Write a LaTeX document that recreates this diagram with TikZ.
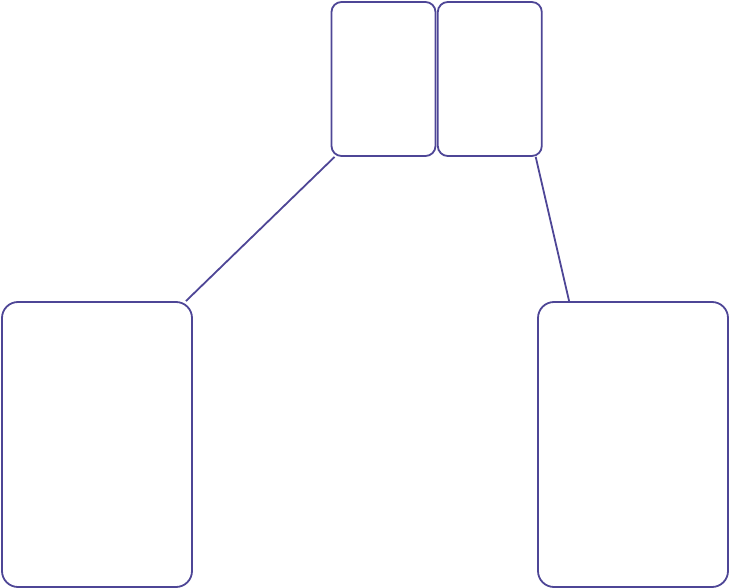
\documentclass[tikz,border=0pt]{standalone}
\usetikzlibrary{positioning}
\definecolor{boxline}{RGB}{78,70,150}
\tikzset{
  card/.style = {draw = boxline, line width = 1.8pt, rounded corners = 10pt, minimum width = 104pt, minimum height = 154pt, inner sep = 0pt},
  bigcard/.style = {draw = boxline, line width = 1.8pt, rounded corners = 16pt, minimum width = 190pt, minimum height = 285pt, inner sep = 0pt},
  link/.style = {draw = boxline, line width = 1.8pt}
}
\begin{document}
\begin{tikzpicture}[x = 1pt, y = -1pt]
      \useasboundingbox (0, 0) rectangle (730, 588);
      \node[card] (cardA) at (383.5, 79) {};
      \node[card, right = 0.5pt of cardA] (cardB) {};
      \node[bigcard] (stackL) at (97, 444.5) {};
      \node[bigcard] (stackR) at (633, 444.5) {};
      \draw[link] ([xshift = 4pt]cardA.south west) -- ([xshift = -7pt]stackL.north east);
      \draw[link] ([xshift = -7pt]cardB.south east) -- ([xshift = 32pt]stackR.north west);
    \end{tikzpicture}
\end{document}
